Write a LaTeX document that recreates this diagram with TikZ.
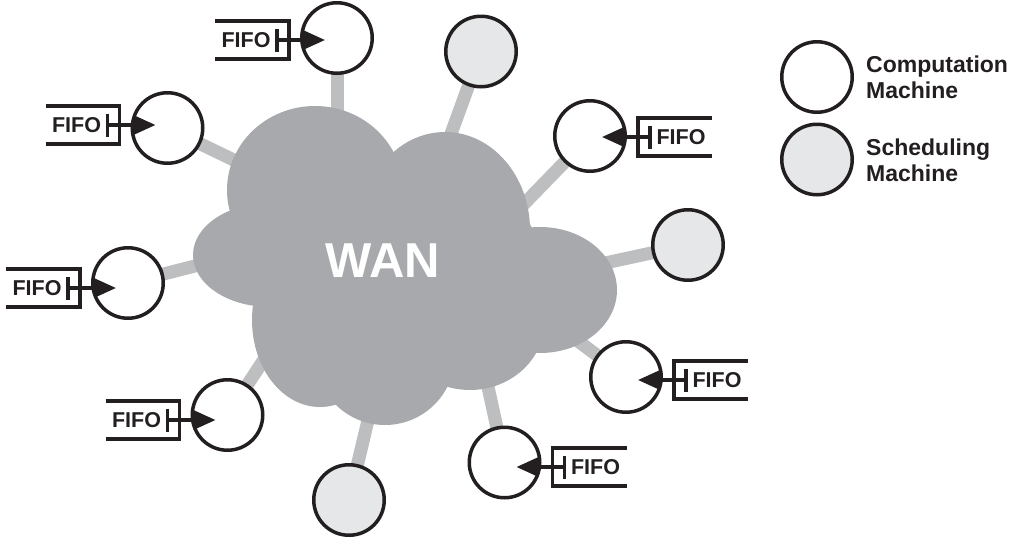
\documentclass[tikz,border=0pt]{standalone}
\usepackage{fontspec}
\setmainfont{Liberation Sans}
\usetikzlibrary{arrows.meta,backgrounds}
\definecolor{ink}{HTML}{231F20}
\definecolor{cloudgray}{HTML}{A7A9AC}
\definecolor{linkgray}{HTML}{BCBEC0}
\definecolor{schedfill}{HTML}{E6E7E8}
\newcommand\fifoleft[2]{%
  \draw[fifoline] (#1.north west) -- ([xshift=12pt]#1.north east) -- ([xshift=12pt]#1.south east) -- (#1.south west);
  \draw[fifoline] ([yshift=11.5pt]#1.east) -- ([yshift=-11.5pt]#1.east);
  \draw[arr] (#1.east) -- (#1.east -| #2.center);}
\newcommand\fiforight[2]{%
  \draw[fifoline] (#1.north east) -- ([xshift=-12pt]#1.north west) -- ([xshift=-12pt]#1.south west) -- (#1.south east);
  \draw[fifoline] ([yshift=11.5pt]#1.west) -- ([yshift=-11.5pt]#1.west);
  \draw[arr] (#1.west) -- (#1.west -| #2.center);}
\begin{document}
\begin{tikzpicture}[x=1pt,y=-1pt,
  machine/.style={circle,draw=ink,line width=3.5pt,minimum size=70.5pt,inner sep=0pt},
  comp/.style={machine,fill=white},
  sched/.style={machine,fill=schedfill},
  link/.style={draw=linkgray,line width=13pt},
  fifobox/.style={inner sep=0pt,outer sep=0pt,minimum width=62pt,minimum height=38pt,font=\bfseries\fontsize{21.5}{24}\selectfont,text=ink},
  fifoline/.style={draw=ink,line width=3.3pt,line join=miter},
  arr/.style={draw=ink,line width=3.3pt,-{Triangle[length=22pt 0,width=19pt 0]},shorten >=12pt},
  legend/.style={font=\bfseries\fontsize{23}{26}\selectfont,text=ink,align=left,anchor=west,inner sep=0pt},
  lobe/.style={fill=cloudgray,draw=none},
]
\useasboundingbox (0,0) rectangle (1018,542);

% machines
\node[comp]  (cA) at (337,38) {};
\node[sched] (sA) at (481,51.5) {};
\node[comp]  (cB) at (167.5,128) {};
\node[comp]  (cE) at (590,136) {};
\node[sched] (sB) at (688,245) {};
\node[comp]  (cC) at (128,283) {};
\node[comp]  (cF) at (626,377) {};
\node[comp]  (cD) at (227.5,415) {};
\node[comp]  (cG) at (504.5,462.5) {};
\node[sched] (sC) at (349,500) {};

% cloud text
\node[font=\bfseries\fontsize{49}{50}\selectfont,text=white,inner sep=0pt] (wan) at (383,261) {WAN};

% link end points inside the cloud
\coordinate (tA) at (337,200);
\coordinate (tsA) at (428,197);
\coordinate (tB) at (300,192);
\coordinate (tE) at (488,241);
\coordinate (tsB) at (550,275);
\coordinate (tC) at (250,252);
\coordinate (tF) at (550,320);
\coordinate (tD) at (290,320);
\coordinate (tG) at (480,350);
\coordinate (tsC) at (380,370);

\begin{pgfonlayer}{background}
  \draw[link] (cA.center) -- (tA);
  \draw[link] (sA.center) -- (tsA);
  \draw[link] (cB.center) -- (tB);
  \draw[link] (cE.center) -- (tE);
  \draw[link] (sB.center) -- (tsB);
  \draw[link] (cC.center) -- (tC);
  \draw[link] (cF.center) -- (tF);
  \draw[link] (cD.center) -- (tD);
  \draw[link] (cG.center) -- (tG);
  \draw[link] (sC.center) -- (tsC);
  % cloud as union of lobes
  \fill[lobe] (315,190) ellipse [x radius=88, y radius=84];
  \fill[lobe] (445,230) ellipse [x radius=85, y radius=98];
  \fill[lobe] (540,290) ellipse [x radius=77, y radius=63];
  \fill[lobe] (470,320) ellipse [x radius=75, y radius=70];
  \fill[lobe] (385,355) ellipse [x radius=70, y radius=70];
  \fill[lobe] (320,320) ellipse [x radius=68, y radius=87];
  \fill[lobe] (270,255) ellipse [x radius=77, y radius=52];
  \fill[lobe] (400,265) ellipse [x radius=140, y radius=110];
\end{pgfonlayer}

% FIFO queues
\node[fifobox] (fA) at (246,40) {FIFO};
\node[fifobox] (fB) at (76.5,125) {FIFO};
\node[fifobox] (fC) at (37,288) {FIFO};
\node[fifobox] (fD) at (136.5,420) {FIFO};
\node[fifobox] (fE) at (681,137) {FIFO};
\node[fifobox] (fF) at (717,380) {FIFO};
\node[fifobox] (fG) at (595.5,467) {FIFO};
\fifoleft{fA}{cA}
\fifoleft{fB}{cB}
\fifoleft{fC}{cC}
\fifoleft{fD}{cD}
\fiforight{fE}{cE}
\fiforight{fF}{cF}
\fiforight{fG}{cG}

% legend
\node[comp]  (lc) at (817,77) {};
\node[sched] (ls) at (817,159.5) {};
\node[legend] (lct) at (866,77) {Computation\\Machine};
\node[legend] (lst) at (866,160) {Scheduling\\Machine};
\end{tikzpicture}
\end{document}
